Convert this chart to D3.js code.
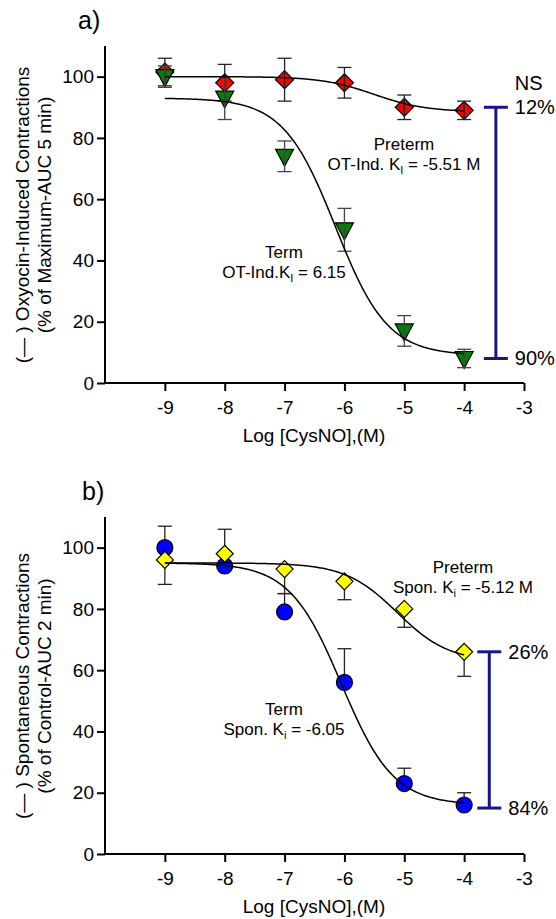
<!DOCTYPE html>
<html>
<head>
<meta charset="utf-8">
<script src="https://cdn.jsdelivr.net/npm/d3@7"></script>
<style>
  body { margin: 0; background: #fff; }
  svg { display: block; font-family: "Liberation Sans", Arial, sans-serif; }
</style>
</head>
<body>
<svg id="chart" width="556" height="919"></svg>
<script>
// doses (log M) and ticks
var doses = [-9, -8, -7, -6, -5, -4];
var xTicks = [-9, -8, -7, -6, -5, -4, -3];
var yTicks = [0, 20, 40, 60, 80, 100];

// panel a: oxytocin-induced
var otPretermMean = [101.5, 98, 99, 98, 90, 89];
var otPretermErr = [4.5, 6, 7, 5, 4, 3];
var otTermMean = [100, 93, 74, 50, 17, 8];
var otTermErr = [3.5, 7, 5, 7, 5, 3];
var otPretermFit = [100, 88.5, -5.51];   // top, bottom, logKi
var otTermFit = [93, 9, -6.15];
var otBracket = [90, 8];
var otBracketLabels = ["12%", "90%"];

// panel b: spontaneous
var spPretermMean = [96, 98, 93, 89, 80, 66];
var spPretermErrDown = [8, 3, 8, 6, 6, 8];
var spTermMean = [100, 94, 79, 56, 23, 16];
var spTermErrUp = [7, 12, 6, 11, 5, 4];
var spPretermFit = [95, 62.7, -5.12];
var spTermFit = [95, 16, -6.05];
var spBracket = [66, 15];
var spBracketLabels = ["26%", "84%"];

var svg = d3.select("#chart");

var x = d3.scaleLinear().domain([-10, -3]).range([105, 524]);

function hill(p) {
  return function (d) { return p[1] + (p[0] - p[1]) / (1 + Math.pow(10, d - p[2])); };
}

var curveX = d3.range(-9, -3.999, 0.02);

function diamond(g, cx, cy, r, fill) {
  g.append("path")
    .attr("d", "M" + cx + "," + (cy - r) + "L" + (cx + r) + "," + cy + "L" + cx + "," + (cy + r) + "L" + (cx - r) + "," + cy + "Z")
    .attr("fill", fill).attr("stroke", "#000").attr("stroke-width", 1.2);
}
function triangle(g, cx, cy, fill) {
  g.append("path")
    .attr("d", "M" + (cx - 9) + "," + (cy - 7) + "L" + (cx + 9) + "," + (cy - 7) + "L" + cx + "," + (cy + 10) + "Z")
    .attr("fill", fill).attr("stroke", "#000").attr("stroke-width", 1.2);
}

function errBar(g, y, xv, lo, hi, col) {
  var px = x(xv);
  g.append("line").attr("x1", px).attr("x2", px).attr("y1", y(lo)).attr("y2", y(hi))
    .attr("stroke", col).attr("stroke-width", 1.3);
  [lo, hi].forEach(function (v) {
    g.append("line").attr("x1", px - 7).attr("x2", px + 7).attr("y1", y(v)).attr("y2", y(v))
      .attr("stroke", col).attr("stroke-width", 1.3);
  });
}

function axes(g, y, bottom) {
  g.append("g").attr("transform", "translate(0," + bottom + ")")
    .call(d3.axisBottom(x).tickValues(xTicks).tickSize(8).tickSizeOuter(0).tickFormat(function (d) { return String(d); }))
    .call(function (a) {
      a.select(".domain").attr("stroke-width", 2).attr("d", "M" + x(-10) + ",0H" + x(-3));
      a.selectAll(".tick line").attr("stroke-width", 2);
      a.selectAll("text").attr("font-size", 19).attr("dy", "1.05em").attr("fill", "#000");
    });
  g.append("g").attr("transform", "translate(" + x(-10) + ",0)")
    .call(d3.axisLeft(y).tickValues(yTicks).tickSize(8).tickSizeOuter(0))
    .call(function (a) {
      a.select(".domain").attr("stroke-width", 2).attr("d", "M0," + y(110) + "V" + y(0));
      a.selectAll(".tick line").attr("stroke-width", 2);
      a.selectAll("text").attr("font-size", 19).attr("x", -11).attr("fill", "#000");
    });
  g.append("text").attr("x", 314).attr("y", bottom + 59).attr("text-anchor", "middle")
    .attr("font-size", 19).text("Log [CysNO],(M)");
}

function yLabel(g, cy, l1, l2) {
  g.append("text").attr("transform", "translate(29," + cy + ") rotate(-90)")
    .attr("text-anchor", "middle").attr("font-size", 19).text(l1);
  g.append("text").attr("transform", "translate(51," + cy + ") rotate(-90)")
    .attr("text-anchor", "middle").attr("font-size", 19).text(l2);
}

function kiText(g, cx, cyBase, name, lead, sub, tail) {
  g.append("text").attr("x", cx).attr("y", cyBase).attr("text-anchor", "middle")
    .attr("font-size", 17).text(name);
  var t = g.append("text").attr("x", cx).attr("y", cyBase + 20).attr("text-anchor", "middle")
    .attr("font-size", 17);
  t.append("tspan").text(lead);
  t.append("tspan").attr("font-size", 11).attr("dy", 4).text(sub);
  t.append("tspan").attr("dy", -4).text(tail);
}

function bracket(g, y, xv, vals, labels, top) {
  var px = x(xv), col = "#16168a";
  g.append("line").attr("x1", px).attr("x2", px).attr("y1", y(vals[0])).attr("y2", y(vals[1]))
    .attr("stroke", col).attr("stroke-width", 3);
  vals.forEach(function (v, i) {
    g.append("line").attr("x1", px - 12).attr("x2", px + 12).attr("y1", y(v)).attr("y2", y(v))
      .attr("stroke", col).attr("stroke-width", 3);
    g.append("text").attr("x", px + 19).attr("y", y(v) + 7).attr("font-size", 20).text(labels[i]);
  });
  if (top) g.append("text").attr("x", px + 19).attr("y", y(vals[0]) - 17).attr("font-size", 20).text(top);
}

// ---------- panel a ----------
var ga = svg.append("g");
var ya = d3.scaleLinear().domain([0, 110]).range([383, 46]);
axes(ga, ya, 383);
yLabel(ga, 215, "(\u2014 ) Oxyocin-Induced Contractions", "(% of Maximum-AUC 5 min)");
ga.append("text").attr("x", 78).attr("y", 29).attr("font-size", 25).text("a)");

doses.forEach(function (d, i) {
  diamond(ga, x(d), ya(otPretermMean[i]), 9, "#ff0000");
  triangle(ga, x(d), ya(otTermMean[i]), "#008000");
});
doses.forEach(function (d, i) {
  errBar(ga, ya, d, otPretermMean[i] - otPretermErr[i], otPretermMean[i] + otPretermErr[i], "#222");
  errBar(ga, ya, d, otTermMean[i] - otTermErr[i], otTermMean[i] + otTermErr[i], "#444");
});
[otPretermFit, otTermFit].forEach(function (p) {
  var f = hill(p);
  ga.append("path").datum(curveX)
    .attr("d", d3.line().x(function (d) { return x(d); }).y(function (d) { return ya(f(d)); }))
    .attr("fill", "none").attr("stroke", "#000").attr("stroke-width", 1.5);
});
kiText(ga, 404, 150, "Preterm", "OT-Ind. K", "I", " = -5.51 M");
kiText(ga, 284, 258, "Term", "OT-Ind.K", "I", " = 6.15");
bracket(ga, ya, -3.47, otBracket, otBracketLabels, "NS");

// ---------- panel b ----------
var gb = svg.append("g");
var yb = d3.scaleLinear().domain([0, 110]).range([854, 517]);
axes(gb, yb, 854);
yLabel(gb, 686, "(\u2014 ) Spontaneous Contractions", "(% of Control-AUC 2 min)");
gb.append("text").attr("x", 82).attr("y", 500).attr("font-size", 25).text("b)");

doses.forEach(function (d, i) {
  errBar(gb, yb, d, spTermMean[i], spTermMean[i] + spTermErrUp[i], "#222");
  errBar(gb, yb, d, spPretermMean[i] - spPretermErrDown[i], spPretermMean[i], "#222");
});
doses.forEach(function (d, i) {
  gb.append("circle").attr("cx", x(d)).attr("cy", yb(spTermMean[i])).attr("r", 8)
    .attr("fill", "#0000ff").attr("stroke", "#000").attr("stroke-width", 1.2);
  diamond(gb, x(d), yb(spPretermMean[i]), 8.5, "#ffff00");
});
[spPretermFit, spTermFit].forEach(function (p) {
  var f = hill(p);
  gb.append("path").datum(curveX)
    .attr("d", d3.line().x(function (d) { return x(d); }).y(function (d) { return yb(f(d)); }))
    .attr("fill", "none").attr("stroke", "#000").attr("stroke-width", 1.5);
});
kiText(gb, 463, 573, "Preterm", "Spon. K", "i", " = -5.12 M");
kiText(gb, 284, 715, "Term", "Spon. K", "i", " = -6.05");
bracket(gb, yb, -3.58, spBracket, spBracketLabels, null);
</script>
</body>
</html>
